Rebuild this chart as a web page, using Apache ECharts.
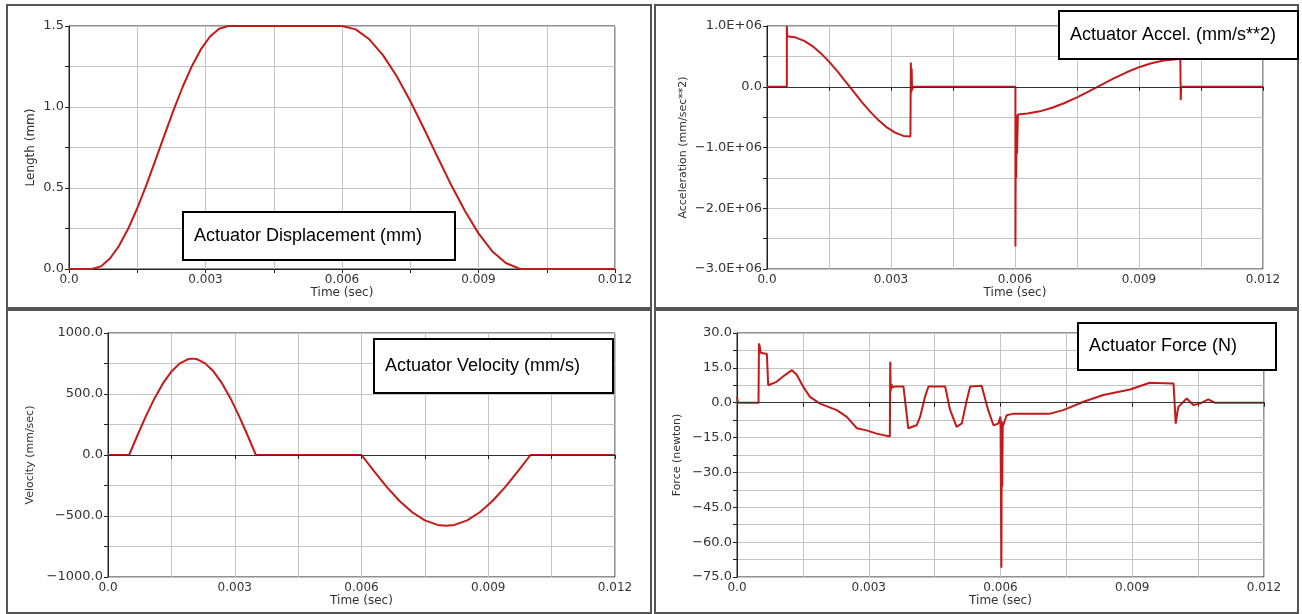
<!DOCTYPE html>
<html lang="en">
<head>
<meta charset="UTF-8">
<title>Actuator Response</title>
<script src="https://cdn.jsdelivr.net/npm/echarts@6/dist/echarts.min.js"></script>
<style>
  html, body { margin: 0; padding: 0; background: #fff; }
  #chart { width: 1302px; height: 614px; }
</style>
</head>
<body>
<div id="chart"></div>
<script>
// time in seconds
var displacement = [
  [0, 0], [0.0005, 0], [0.0007, 0.016], [0.0009, 0.065], [0.0011, 0.143], [0.0013, 0.248],
  [0.0015, 0.375], [0.0017, 0.518], [0.0019, 0.672], [0.0021, 0.828], [0.0023, 0.982],
  [0.0025, 1.125], [0.0027, 1.252], [0.0029, 1.357], [0.0031, 1.435], [0.0033, 1.483],
  [0.0035, 1.5], [0.006, 1.5], [0.0063, 1.479], [0.0066, 1.418], [0.0069, 1.32],
  [0.0072, 1.191], [0.0075, 1.037], [0.0078, 0.867], [0.0081, 0.691], [0.0084, 0.518],
  [0.0087, 0.359], [0.009, 0.22], [0.0093, 0.11], [0.0096, 0.037], [0.0099, 0.002],
  [0.01, 0], [0.012, 0]
];

var acceleration = [
  [0, 0], [0.00048, 0], [0.00048, 1000000], [0.00049, 830000], [0.0005, 850000],
  [0.0007, 809000], [0.0009, 755000], [0.0011, 669000], [0.0013, 553000], [0.0015, 414000],
  [0.0017, 256000], [0.0019, 86000], [0.0021, -86000], [0.0023, -256000], [0.0025, -414000],
  [0.0027, -553000], [0.0029, -669000], [0.0031, -755000], [0.0033, -809000],
  [0.00347, -820000], [0.00348, 400000], [0.00349, -100000], [0.0035, 300000],
  [0.00351, -60000], [0.00353, 0], [0.00601, 0], [0.00601, -2630000], [0.00602, -470000],
  [0.00603, -1500000], [0.00604, -470000], [0.00605, -1100000], [0.00607, -455000],
  [0.0063, -442000], [0.0066, -405000], [0.0069, -346000], [0.0072, -267000],
  [0.0075, -174000], [0.0078, -71000], [0.0081, 36000], [0.0084, 141000], [0.0087, 238000],
  [0.009, 322000], [0.0093, 388000], [0.0096, 433000], [0.0099, 454000], [0.01, 465000],
  [0.01001, -220000], [0.01002, 0], [0.012, 0]
];

var velocity = [
  [0, 0], [0.0005, 0], [0.0007, 164], [0.0009, 321], [0.0011, 464], [0.0013, 587],
  [0.0015, 684], [0.0017, 751], [0.0019, 786], [0.002, 790], [0.0021, 786], [0.0023, 751],
  [0.0025, 684], [0.0027, 587], [0.0029, 464], [0.0031, 321], [0.0033, 164], [0.0035, 0],
  [0.006, 0], [0.0063, -135], [0.0066, -263], [0.0069, -377], [0.0072, -469], [0.0075, -536],
  [0.0078, -573], [0.008, -580], [0.0082, -573], [0.0085, -536], [0.0088, -469],
  [0.0091, -377], [0.0094, -263], [0.0097, -135], [0.01, 0], [0.012, 0]
];

var force = [
  [0, 2.5], [0.00002, 0], [0.00049, 0], [0.0005, 25.5], [0.00052, 24], [0.00054, 21.5],
  [0.00068, 21], [0.00071, 7.5], [0.0009, 9], [0.0011, 12], [0.00125, 14], [0.00136, 12],
  [0.00151, 6.8], [0.00166, 2.5], [0.00189, -0.4], [0.00227, -3.2], [0.0025, -6.1],
  [0.00273, -11], [0.00295, -11.9], [0.00318, -13.3], [0.00348, -14.5], [0.00349, 17.6],
  [0.0035, 5], [0.00352, 8], [0.00354, 6.5], [0.0036, 7], [0.00379, 7], [0.0039, -11],
  [0.00409, -9.7], [0.00417, -6], [0.00428, 2.5], [0.00436, 7], [0.00474, 7], [0.00485, -3],
  [0.005, -10.4], [0.00512, -8.9], [0.00523, 1], [0.00531, 7], [0.00557, 7.3],
  [0.00572, -3.2], [0.00584, -9.7], [0.00595, -9], [0.006, -6], [0.00602, -71],
  [0.00603, -8], [0.00604, -36], [0.00605, -10.4], [0.00614, -5.4], [0.0063, -4.7],
  [0.00713, -4.7], [0.00743, -3.2], [0.00789, 0.4], [0.00834, 3.3], [0.00895, 5.7],
  [0.0094, 8.6], [0.00994, 8.3], [0.00999, -9], [0.01002, -5], [0.01005, -1.8],
  [0.01024, 1.8], [0.01039, -1], [0.01054, -0.4], [0.01073, 1.4], [0.01088, 0], [0.012, 0]
];

// tick labels (every other tick is unlabelled)
var timeLabels = ['0.0', '', '0.003', '', '0.006', '', '0.009', '', '0.012'];
var lengthLabels = ['0.0', '', '0.5', '', '1.0', '', '1.5'];
var accelLabels = ['\u22123.0E+06', '', '\u22122.0E+06', '', '\u22121.0E+06', '', '0.0', '', '1.0E+06'];
var velocityLabels = ['\u22121000.0', '', '\u2212500.0', '', '0.0', '', '500.0', '', '1000.0'];
var forceLabels = ['\u221275.0', '', '\u221260.0', '', '\u221245.0', '', '\u221230.0', '',
  '\u221215.0', '', '0.0', '', '15.0', '', '30.0'];

var font = 'DejaVu Sans, Arial, sans-serif';
var lineColor = '#c41a1a';

var chart = echarts.init(document.getElementById('chart'));

function pickLabel(labels, min, step) {
  return function (v) {
    return labels[Math.round((v - min) / step)] || '';
  };
}

function xAxis(grid) {
  return {
    type: 'value', gridIndex: grid, min: 0, max: 0.012, interval: 0.0015,
    name: 'Time (sec)', nameLocation: 'middle', nameGap: 18,
    nameTextStyle: { fontFamily: font, fontSize: 12, color: '#333' },
    axisLine: { lineStyle: { color: '#222' } },
    axisTick: { length: 4, lineStyle: { color: '#222' } },
    axisLabel: { formatter: pickLabel(timeLabels, 0, 0.0015), fontFamily: font, fontSize: 12, color: '#333', margin: 5 },
    splitLine: { lineStyle: { color: '#c4c4c4' } }
  };
}

function yAxis(grid, name, min, max, step, labels, gap, nameSize) {
  return {
    type: 'value', gridIndex: grid, min: min, max: max, interval: step,
    name: name, nameLocation: 'middle', nameGap: gap, nameRotate: 90,
    nameTextStyle: { fontFamily: font, fontSize: nameSize, color: '#333' },
    axisLine: { show: true, lineStyle: { color: '#222' } },
    axisTick: { show: true, length: 4, lineStyle: { color: '#222' } },
    axisLabel: { formatter: pickLabel(labels, min, step), fontFamily: font, fontSize: 13, color: '#333', margin: 5 },
    splitLine: { lineStyle: { color: '#c4c4c4' } }
  };
}

function curve(idx, data) {
  return {
    type: 'line', xAxisIndex: idx, yAxisIndex: idx, data: data, z: 3,
    showSymbol: false, lineStyle: { color: lineColor, width: 2 }
  };
}

function zeroLine(idx) {
  return {
    type: 'line', xAxisIndex: idx, yAxisIndex: idx, data: [], z: 1,
    markLine: {
      silent: true, symbol: 'none', label: { show: false },
      lineStyle: { color: '#333', type: 'solid', width: 1 },
      data: [{ yAxis: 0 }]
    }
  };
}

function frame(x, y, w, h) {
  return { type: 'rect', shape: { x: x, y: y, width: w, height: h }, style: { fill: 'none', stroke: '#555', lineWidth: 2 }, z: 0 };
}

function note(x, y, w, h, text) {
  return [
    { type: 'rect', shape: { x: x, y: y, width: w, height: h }, style: { fill: '#fff', stroke: '#000', lineWidth: 2 }, z: 10 },
    { type: 'text', x: x + 11, y: y + h / 2, style: { text: text, font: '18px Liberation Sans, Arial, sans-serif', fill: '#000', verticalAlign: 'middle' }, z: 11 }
  ];
}

var gridStyle = { show: true, borderColor: '#222', borderWidth: 1, containLabel: false };

var option = {
  animation: false,
  backgroundColor: '#fff',
  grid: [
    Object.assign({ left: 69, top: 26, width: 546, height: 243 }, gridStyle),
    Object.assign({ left: 767, top: 26, width: 496, height: 243 }, gridStyle),
    Object.assign({ left: 108, top: 333, width: 507, height: 244 }, gridStyle),
    Object.assign({ left: 737, top: 333, width: 527, height: 244 }, gridStyle)
  ],
  xAxis: [xAxis(0), xAxis(1), xAxis(2), xAxis(3)],
  yAxis: [
    yAxis(0, 'Length (mm)', 0, 1.5, 0.25, lengthLabels, 32, 12),
    yAxis(1, 'Acceleration (mm/sec**2)', -3000000, 1000000, 500000, accelLabels, 78, 11),
    yAxis(2, 'Velocity (mm/sec)', -1000, 1000, 250, velocityLabels, 72, 11),
    yAxis(3, 'Force (newton)', -75, 30, 7.5, forceLabels, 54, 11)
  ],
  series: [
    zeroLine(1), zeroLine(2), zeroLine(3),
    curve(0, displacement), curve(1, acceleration), curve(2, velocity), curve(3, force)
  ],
  graphic: [
    frame(7, 5, 644, 303), frame(655, 5, 643, 303),
    frame(7, 310, 644, 303), frame(655, 310, 643, 303)
  ].concat(
    note(183, 212, 272, 48, 'Actuator Displacement (mm)'),
    note(1059, 11, 239, 48, 'Actuator Accel. (mm/s**2)'),
    note(374, 339, 239, 54, 'Actuator Velocity (mm/s)'),
    note(1078, 323, 198, 47, 'Actuator Force (N)')
  )
};

chart.setOption(option);
</script>
</body>
</html>
